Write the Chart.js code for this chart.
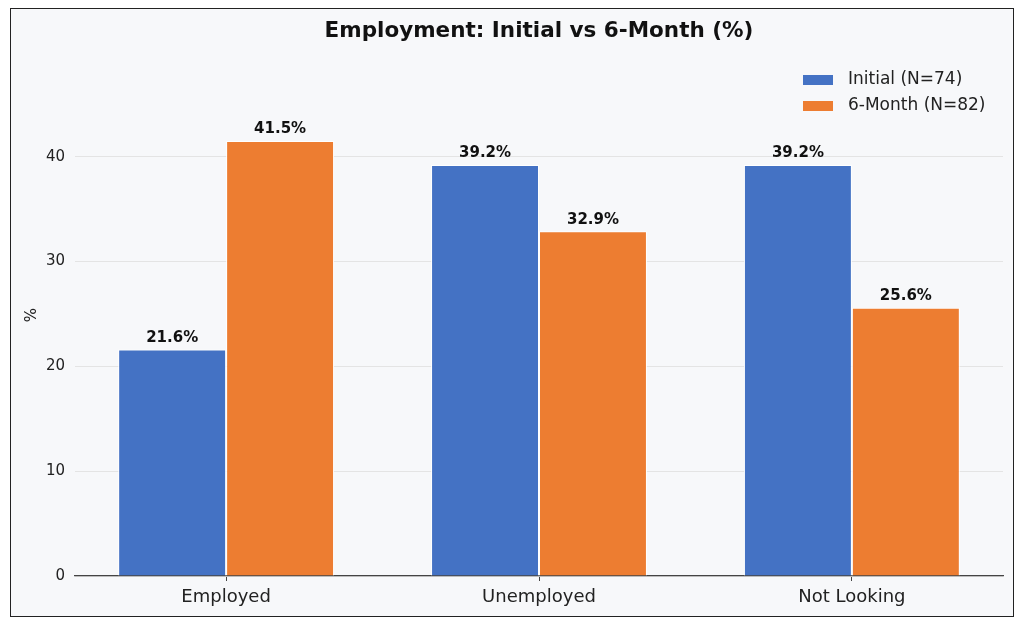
<!DOCTYPE html>
<html>
<head>
<meta charset="utf-8">
<script src="https://cdn.jsdelivr.net/npm/chart.js@4.4.1/dist/chart.umd.min.js"></script>
<style>
  html, body { margin: 0; padding: 0; background: #ffffff; }
  #frame {
    position: absolute; left: 10px; top: 8px;
    width: 1002px; height: 607px;
    border: 1.5px solid #222;
    background: #f7f8fa;
  }
</style>
</head>
<body>
<div id="frame"><canvas id="myChart"></canvas></div>
<script>
const categories = ['Employed', 'Unemployed', 'Not Looking']
const initialPct = [21.6, 39.2, 39.2]
const sixMonthPct = [41.5, 32.9, 25.6]
const seriesLabels = ['Initial (N=74)', '6-Month (N=82)']
const yTicks = [0, 10, 20, 30, 40]
const chartTitle = 'Employment: Initial vs 6-Month (%)'

const FONT = "'DejaVu Sans', sans-serif"

// title centred over the plot area, like matplotlib
const titlePlugin = {
    id: 'plotTitle',
    afterDraw(chart) {
        const ctx = chart.ctx
        const a = chart.chartArea
        ctx.save()
        ctx.font = 'bold 21.5px ' + FONT
        ctx.fillStyle = '#111'
        ctx.textAlign = 'center'
        ctx.textBaseline = 'middle'
        ctx.fillText(chartTitle, (a.left + a.right) / 2, 22)
        ctx.restore()
    }
}

// value labels on top of each bar
const valueLabels = {
    id: 'valueLabels',
    afterDatasetsDraw(chart) {
        const ctx = chart.ctx
        ctx.save()
        ctx.font = 'bold 15px ' + FONT
        ctx.fillStyle = '#111'
        ctx.textAlign = 'center'
        ctx.textBaseline = 'bottom'
        chart.data.datasets.forEach((ds, i) => {
            chart.getDatasetMeta(i).data.forEach((bar, j) => {
                ctx.fillText(ds.data[j].toFixed(1) + '%', bar.x, bar.y - 4)
            })
        })
        ctx.restore()
    }
}

// legend in the upper right corner of the plot
const cornerLegend = {
    id: 'cornerLegend',
    afterDraw(chart) {
        const ctx = chart.ctx
        const a = chart.chartArea
        const x0 = a.right - 200
        ctx.save()
        ctx.font = '17px ' + FONT
        ctx.textBaseline = 'middle'
        ctx.textAlign = 'left'
        chart.data.datasets.forEach((ds, i) => {
            const y = 71 + i * 26
            ctx.fillStyle = ds.backgroundColor
            ctx.fillRect(x0, y - 5, 30, 10)
            ctx.fillStyle = '#222'
            ctx.fillText(ds.label, x0 + 45, y)
        })
        ctx.restore()
    }
}

const ctx = document.getElementById('myChart')
new Chart(ctx, {
    type: 'bar',
    data: {
        labels: categories,
        datasets: [
            {
                label: seriesLabels[0],
                data: initialPct,
                backgroundColor: '#4472C4',
                borderColor: '#ffffff',
                borderWidth: 1
            },
            {
                label: seriesLabels[1],
                data: sixMonthPct,
                backgroundColor: '#ED7D31',
                borderColor: '#ffffff',
                borderWidth: 1
            }
        ]
    },
    options: {
        responsive: true,
        maintainAspectRatio: false,
        devicePixelRatio: 1,
        animation: false,
        layout: { padding: { top: 45, right: 10, left: 0, bottom: 0 } },
        plugins: {
            legend: { display: false },
            tooltip: { enabled: false }
        },
        datasets: {
            bar: { categoryPercentage: 0.69, barPercentage: 1.0 }
        },
        scales: {
            x: {
                offset: true,
                grid: { color: 'transparent', tickColor: '#444', tickLength: 5, offset: false },
                border: { color: '#444', width: 1.3 },
                ticks: { color: '#222', font: { family: FONT, size: 18 }, padding: 6 },
                afterFit(scale) {
                    scale.height = 40
                    // matplotlib leaves a bit less than half a category at each end
                    scale._startValue = -0.483
                    scale._valueRange = categories.length - 1 + 0.966
                }
            },
            y: {
                min: 0,
                max: 49.8,
                afterBuildTicks(scale) { scale.ticks = yTicks.map(v => ({ value: v })) },
                grid: { color: '#e4e4e4', lineWidth: 1, drawTicks: false },
                border: { display: false },
                ticks: { color: '#222', font: { family: FONT, size: 15 }, padding: 10 },
                title: { display: true, text: '%', color: '#222', font: { family: FONT, size: 15 }, padding: { top: 12, bottom: 0 } },
                afterFit(scale) { scale.width = 64 }
            }
        }
    },
    plugins: [titlePlugin, valueLabels, cornerLegend]
})
</script>
</body>
</html>
